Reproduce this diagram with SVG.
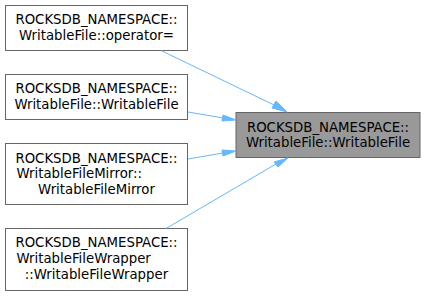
<svg xmlns="http://www.w3.org/2000/svg" width="425" height="296" viewBox="0 0 425 296">
<style>
.box{fill:#ffffff;stroke:#666666;stroke-width:1}
.hl{fill:#999999;stroke:#666666;stroke-width:1}
text{font-family:"DejaVu Sans",sans-serif;font-size:13.3px;fill:#000000;text-anchor:middle}
text.l{text-anchor:start}
.edge{fill:none;stroke:#63b8ff;stroke-width:1}
.head{fill:#63b8ff;stroke:#63b8ff;stroke-width:1}
</style>
<rect width="425" height="296" fill="#ffffff"/>
<g id="node-target">
<rect class="hl" x="236" y="112.5" width="184" height="45"/>
<text x="328" y="131.5">ROCKSDB_NAMESPACE::</text>
<text x="328" y="147">WritableFile::WritableFile</text>
</g>
<g id="node-operator">
<rect class="box" x="5.5" y="5.5" width="182" height="45"/>
<text x="96.5" y="24">ROCKSDB_NAMESPACE::</text>
<text x="96.5" y="39.5">WritableFile::operator=</text>
</g>
<g id="node-writablefile">
<rect class="box" x="5.5" y="74.5" width="182" height="45"/>
<text x="96.5" y="93">ROCKSDB_NAMESPACE::</text>
<text x="96.5" y="108.5">WritableFile::WritableFile</text>
</g>
<g id="node-mirror">
<rect class="box" x="5.5" y="143.5" width="182" height="61"/>
<text x="96.5" y="162.5">ROCKSDB_NAMESPACE::</text>
<text class="l" x="16.5" y="178">WritableFileMirror::</text>
<text x="96.5" y="194">WritableFileMirror</text>
</g>
<g id="node-wrapper">
<rect class="box" x="5.5" y="228.5" width="182" height="62"/>
<text x="96.5" y="247">ROCKSDB_NAMESPACE::</text>
<text class="l" x="16.5" y="263">WritableFileWrapper</text>
<text x="96.5" y="279">::WritableFileWrapper</text>
</g>
<g id="connectors">
<path class="edge" d="M161,50.5 L274,105"/>
<polygon class="head" points="272,108 287,112 276,101"/>
<path class="edge" d="M188,112 L223,118"/>
<polygon class="head" points="222,121 236,120 223,115"/>
<path class="edge" d="M188,159 L223,153"/>
<polygon class="head" points="223,156 236,151 222,150"/>
<path class="edge" d="M166,228.5 L276,164"/>
<polygon class="head" points="278,167 288,158 274,162"/>
</g>
</svg>
